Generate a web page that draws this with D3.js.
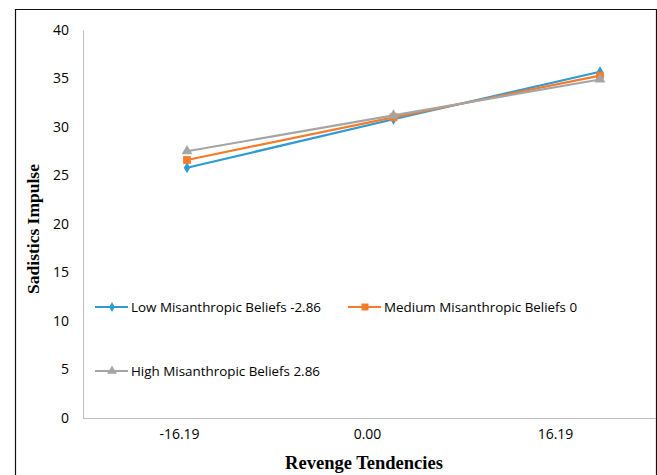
<!DOCTYPE html>
<html><head><meta charset="utf-8">
<script src="https://cdn.jsdelivr.net/npm/d3@7"></script>
<style>body{margin:0;background:#fff}</style>
</head><body>
<svg id="c" width="657" height="475"></svg>
<script>
const categories = ["-16.19", "0.00", "16.19"];
const yTicks = [0, 5, 10, 15, 20, 25, 30, 35, 40];
const seriesNames = ["Low Misanthropic Beliefs -2.86", "Medium Misanthropic Beliefs 0", "High Misanthropic Beliefs 2.86"];
const lowValues = [25.8, 30.8, 35.7];
const mediumValues = [26.6, 31.0, 35.3];
const highValues = [27.5, 31.2, 34.9];
const colors = ["#2E9BD6", "#F47B2A", "#A5A5A5"];
const series = [lowValues, mediumValues, highValues];

const svg = d3.select("#c");
const font = "'Open Sans', sans-serif";

// outer border
svg.append("path").attr("d", "M15.5,475 V9.5 H656.5 V475").attr("fill", "none").attr("stroke", "#111").attr("stroke-width", 1.2);

const y = d3.scaleLinear().domain([0, 40]).range([418, 30]);
const xMarks = d3.scalePoint().domain(categories).range([187, 600]);
const xAxisScale = d3.scalePoint().domain(categories).range([179, 555]);

// y axis
const ya = svg.append("g").attr("transform", "translate(83,0)")
  .call(d3.axisLeft(y).tickValues(yTicks).tickSize(0).tickPadding(14));
ya.select(".domain").attr("stroke", "#BFBFBF");
ya.selectAll("text").attr("font-family", font).attr("font-size", 14).attr("fill", "#000");

// x axis
const xa = svg.append("g").attr("transform", "translate(0,418.5)")
  .call(d3.axisBottom(xAxisScale).tickSize(0).tickPadding(11));
xa.select(".domain").attr("d", "M83,0H656").attr("stroke", "#BFBFBF");
xa.selectAll("text").attr("font-family", font).attr("font-size", 14).attr("fill", "#000");

// lines
const line = d3.line().x((d, i) => xMarks(categories[i])).y(d => y(d));
const sym = [d3.symbolDiamond, d3.symbolSquare, d3.symbolTriangle];
const symSize = [36, 60, 50];
series.forEach((vals, s) => {
  svg.append("path").datum(vals).attr("d", line).attr("fill", "none")
    .attr("stroke", colors[s]).attr("stroke-width", 2.2);
});
series.forEach((vals, s) => {
  svg.selectAll(null).data(vals).enter().append("path")
    .attr("transform", (d, i) => `translate(${xMarks(categories[i])},${y(d)})`)
    .attr("d", d3.symbol().type(sym[s]).size(symSize[s])).attr("fill", colors[s]);
});

// legend
const legPos = [[95, 307], [348, 307], [95, 371]];
seriesNames.forEach((name, s) => {
  const [lx, ly] = legPos[s];
  const g = svg.append("g").attr("transform", `translate(${lx},${ly})`);
  g.append("line").attr("x1", 0).attr("x2", 33).attr("y1", 0).attr("y2", 0).attr("stroke", colors[s]).attr("stroke-width", 2.2);
  g.append("path").attr("transform", "translate(17,0)").attr("d", d3.symbol().type(sym[s]).size(symSize[s] * 0.8)).attr("fill", colors[s]);
  g.append("text").attr("x", 36).attr("y", 0).attr("dy", "0.35em").attr("font-family", font).attr("font-size", 13.4).text(name);
});

// axis titles
svg.append("text").attr("x", 364).attr("y", 469).attr("text-anchor", "middle")
  .attr("font-family", "'Liberation Serif', serif").attr("font-weight", "bold").attr("font-size", 18.5).text("Revenge Tendencies");
svg.append("text").attr("transform", "translate(39,229) rotate(-90)").attr("text-anchor", "middle")
  .attr("font-family", "'Liberation Serif', serif").attr("font-weight", "bold").attr("font-size", 17.5).text("Sadistics Impulse");
</script>
</body></html>
